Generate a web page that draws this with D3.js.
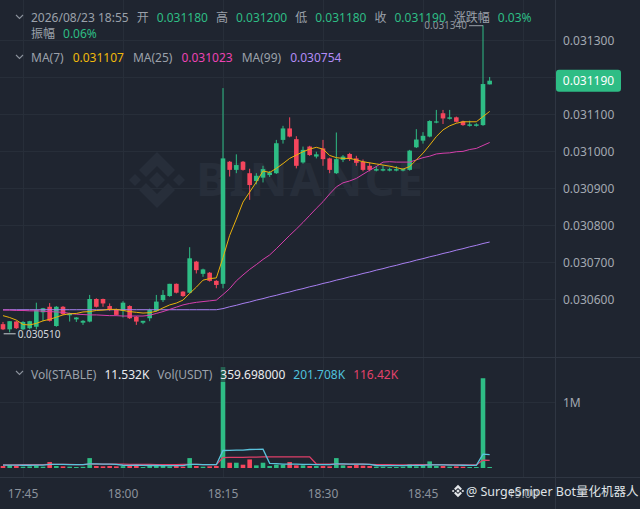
<!DOCTYPE html>
<html>
<head>
<meta charset="utf-8">
<script src="https://cdn.jsdelivr.net/npm/d3@7"></script>
<style>
  html, body { margin: 0; padding: 0; background: #1f2530; }
  svg { display: block; font-family: "Noto Sans", "Noto Sans CJK SC", sans-serif; }
</style>
</head>
<body>
<svg id="chart" width="640" height="509"></svg>
<script>
// ---- data (1 minute candles, 17:42 -> 18:55) ----
const firstMinute = new Date(2026, 7, 23, 17, 42);
const lastMinute = new Date(2026, 7, 23, 18, 55);

const opens = [0.030532,0.030518,0.030539,0.030518,0.030521,0.030525,0.030564,0.030579,0.030527,0.030579,
  0.030556,0.030545,0.030536,0.030539,0.030600,0.030600,0.030581,0.030572,0.030568,0.030581,
  0.030552,0.030536,0.030548,0.030568,0.030597,0.030608,0.030641,0.030620,0.030617,0.030701,
  0.030668,0.030671,0.030649,0.030641,0.030971,0.030949,0.030971,0.030940,0.030919,0.030928,
  0.030935,0.030940,0.031030,0.031061,0.031032,0.030969,0.031012,0.030985,0.031007,0.030980,
  0.030940,0.030976,0.030992,0.030980,0.030971,0.030960,0.030947,0.030947,0.030947,0.030947,
  0.030947,0.030949,0.031010,0.031028,0.031039,0.031077,0.031102,0.031087,0.031091,0.031080,
  0.031068,0.031068,0.031070,0.031180];
const highs = [0.030538,0.030540,0.030541,0.030540,0.030541,0.030590,0.030576,0.030589,0.030581,0.030581,
  0.030563,0.030551,0.030543,0.030611,0.030602,0.030601,0.030588,0.030574,0.030594,0.030583,
  0.030554,0.030541,0.030574,0.030611,0.030624,0.030641,0.030642,0.030621,0.030740,0.030703,
  0.030682,0.030673,0.030651,0.031170,0.030973,0.030991,0.030973,0.030952,0.030940,0.030960,
  0.030946,0.031030,0.031068,0.031091,0.031040,0.031012,0.031014,0.030998,0.031030,0.030982,
  0.031050,0.030989,0.030995,0.030987,0.030977,0.030969,0.030959,0.030961,0.030955,0.030959,
  0.030953,0.031003,0.031059,0.031051,0.031083,0.031111,0.031111,0.031111,0.031093,0.031082,
  0.031082,0.031075,0.031340,0.031200];
const lows = [0.030516,0.030510,0.030519,0.030516,0.030518,0.030518,0.030540,0.030539,0.030525,0.030557,
  0.030539,0.030538,0.030530,0.030537,0.030577,0.030579,0.030568,0.030555,0.030550,0.030546,
  0.030530,0.030532,0.030540,0.030566,0.030592,0.030606,0.030615,0.030606,0.030615,0.030669,
  0.030660,0.030647,0.030629,0.030629,0.030931,0.030940,0.030947,0.030868,0.030910,0.030915,
  0.030930,0.030938,0.031020,0.031037,0.030953,0.030966,0.030987,0.030980,0.030960,0.030940,
  0.030938,0.030970,0.030973,0.030960,0.030945,0.030945,0.030945,0.030945,0.030945,0.030945,
  0.030945,0.030947,0.031008,0.031020,0.031037,0.031075,0.031073,0.031085,0.031077,0.031068,
  0.031066,0.031066,0.031068,0.031180];
const closes = [0.030518,0.030540,0.030521,0.030538,0.030540,0.030570,0.030575,0.030541,0.030579,0.030559,
  0.030561,0.030550,0.030541,0.030600,0.030579,0.030588,0.030570,0.030557,0.030590,0.030548,
  0.030539,0.030541,0.030570,0.030593,0.030611,0.030641,0.030617,0.030608,0.030710,0.030678,
  0.030680,0.030649,0.030638,0.030980,0.030949,0.030962,0.030949,0.030908,0.030933,0.030951,
  0.030942,0.031021,0.031061,0.031039,0.030960,0.031003,0.030989,0.030991,0.030978,0.030949,
  0.030978,0.030985,0.030978,0.030968,0.030949,0.030949,0.030951,0.030951,0.030951,0.030951,
  0.030951,0.031001,0.031031,0.031041,0.031081,0.031080,0.031088,0.031091,0.031079,0.031070,
  0.031072,0.031072,0.031181,0.031190];

const ma7 = [0.030555,0.030550,0.030543,0.030531,0.030530,0.030534,0.030541,0.030545,0.030551,0.030557,
  0.030560,0.030561,0.030565,0.030566,0.030569,0.030570,0.030572,0.030572,0.030569,0.030566,
  0.030564,0.030562,0.030563,0.030567,0.030576,0.030584,0.030589,0.030597,0.030615,0.030632,
  0.030651,0.030655,0.030657,0.030712,0.030772,0.030816,0.030862,0.030889,0.030916,0.030946,
  0.030942,0.030953,0.030966,0.030980,0.030989,0.030998,0.031005,0.031010,0.031005,0.030988,
  0.030982,0.030980,0.030980,0.030976,0.030971,0.030968,0.030965,0.030962,0.030959,0.030955,
  0.030951,0.030958,0.030976,0.030994,0.031016,0.031039,0.031057,0.031068,0.031075,0.031079,
  0.031079,0.031079,0.031093,0.031107];
const ma25 = [0.030570,0.030570,0.030569,0.030569,0.030568,0.030568,0.030567,0.030566,0.030565,0.030564,
  0.030561,0.030559,0.030558,0.030557,0.030557,0.030556,0.030555,0.030555,0.030554,0.030554,
  0.030554,0.030554,0.030556,0.030561,0.030566,0.030572,0.030578,0.030584,0.030588,0.030591,
  0.030593,0.030595,0.030597,0.030612,0.030628,0.030649,0.030665,0.030680,0.030693,0.030707,
  0.030719,0.030736,0.030754,0.030772,0.030789,0.030807,0.030826,0.030845,0.030863,0.030884,
  0.030903,0.030914,0.030919,0.030926,0.030937,0.030948,0.030958,0.030970,0.030971,0.030970,
  0.030970,0.030970,0.030976,0.030982,0.030986,0.030992,0.030994,0.030995,0.030998,0.030999,
  0.031004,0.031007,0.031015,0.031023];
const ma99 = [0.030571,0.030571,0.030571,0.030571,0.030571,0.030571,0.030571,0.030571,0.030571,0.030571,
  0.030571,0.030571,0.030571,0.030571,0.030571,0.030571,0.030571,0.030571,0.030571,0.030571,
  0.030571,0.030571,0.030571,0.030571,0.030571,0.030571,0.030571,0.030571,0.030571,0.030571,
  0.030571,0.030571,0.030571,0.030574,0.030579,0.030583,0.030588,0.030592,0.030597,0.030601,
  0.030606,0.030610,0.030615,0.030619,0.030624,0.030628,0.030633,0.030637,0.030642,0.030646,
  0.030651,0.030655,0.030660,0.030664,0.030669,0.030673,0.030678,0.030682,0.030687,0.030691,
  0.030696,0.030700,0.030705,0.030709,0.030714,0.030718,0.030723,0.030727,0.030732,0.030736,
  0.030741,0.030745,0.030750,0.030754];

const volumes = [30000,45000,35000,20000,25000,40000,20000,90000,30000,25000,
  20000,15000,18000,150000,30000,25000,30000,25000,28000,30000,
  60000,15000,35000,30000,30000,25000,30000,20000,150000,30000,
  20000,25000,30000,1530000,80000,80000,50000,130000,40000,80000,
  30000,50000,50000,90000,40000,40000,30000,30000,30000,25000,
  150000,40000,30000,45000,35000,30000,20000,20000,15000,15000,
  20000,60000,25000,30000,100000,30000,30000,20000,25000,20000,
  15000,15000,1360000,11532];
const volMaFast = [45000,45000,44000,42000,42000,44000,45000,55000,55000,54000,
  52000,50000,50000,62000,62000,60000,58000,55000,42000,40000,
  42000,40000,38000,38000,36000,36000,35000,35000,55000,55000,
  52000,50000,50000,265000,268000,272000,272000,280000,282000,285000,
  70000,65000,60000,58000,58000,55000,55000,52000,50000,50000,
  62000,62000,60000,58000,58000,55000,38000,36000,35000,35000,
  35000,40000,40000,40000,48000,48000,46000,45000,45000,42000,
  40000,40000,210000,201708];
const volMaSlow = [48000,48000,48000,50000,50000,50000,52000,55000,55000,55000,
  55000,52000,52000,60000,60000,60000,58000,58000,58000,56000,
  56000,55000,55000,52000,52000,50000,50000,55000,55000,55000,
  52000,52000,50000,158000,160000,162000,162000,165000,166000,168000,
  168000,168000,170000,170000,170000,170000,170000,60000,58000,58000,
  60000,60000,60000,58000,58000,55000,52000,50000,50000,48000,
  48000,48000,50000,50000,52000,52000,50000,50000,48000,48000,
  46000,46000,120000,116420];
const volumeUsdt = 359.698;
const priceTicks = [0.0306,0.0307,0.0308,0.0309,0.0310,0.0311,0.0312,0.0313];

// ---- setup ----
const times = d3.timeMinute.range(firstMinute, d3.timeMinute.offset(lastMinute, 1));
const last = times.length - 1;
const bg = "#1f2530", up = "#2ebd85", down = "#f6465d";
const gridColor = "#272e39", sepColor = "#2f3642";
const plotRight = 555;

const svg = d3.select("#chart");
svg.append("rect").attr("width", 640).attr("height", 509).attr("fill", bg);

const x = d3.scaleTime()
  .domain([firstMinute, new Date(2026, 7, 23, 19, 0)])
  .range([3, 523]);
const y = d3.scaleLinear().domain([0.0306, 0.0313]).range([299, 40]);
const yv = d3.scaleLinear().domain([0, 1e6]).range([468, 402]);
const fmtP = d3.format(".6f");
const bodyW = 4.6;

// grid
const grid = svg.append("g");
grid.selectAll("line.h").data(priceTicks).join("line")
  .attr("x1", 0).attr("x2", plotRight)
  .attr("y1", d => Math.round(y(d)) + 0.5).attr("y2", d => Math.round(y(d)) + 0.5)
  .attr("stroke", gridColor);
grid.append("line").attr("x1", 0).attr("x2", plotRight)
  .attr("y1", Math.round(yv(1e6)) + 0.5).attr("y2", Math.round(yv(1e6)) + 0.5)
  .attr("stroke", gridColor);
const timeTicks = x.ticks(d3.timeMinute.every(15));
grid.selectAll("line.v").data(timeTicks).join("line")
  .attr("x1", d => Math.round(x(d)) + 0.5).attr("x2", d => Math.round(x(d)) + 0.5)
  .attr("y1", 0).attr("y2", 477)
  .attr("stroke", gridColor);

// separators
svg.append("line").attr("x1", 0).attr("x2", 640).attr("y1", 357.5).attr("y2", 357.5).attr("stroke", sepColor);
svg.append("line").attr("x1", 0).attr("x2", 640).attr("y1", 477.5).attr("y2", 477.5).attr("stroke", sepColor);
svg.append("line").attr("x1", plotRight + 0.5).attr("x2", plotRight + 0.5).attr("y1", 0).attr("y2", 509).attr("stroke", sepColor);

// binance style logo
function logo(g, s, fill) {
  const parts = [
    "M0,-8 L8,0 L0,8 L-8,0 Z",
    "M-22,-6 L-16,0 L-22,6 L-28,0 Z",
    "M22,-6 L28,0 L22,6 L16,0 Z",
    "M0,-28 L18,-10 L11,-3 L0,-14 L-11,-3 L-18,-10 Z",
    "M0,28 L18,10 L11,3 L0,14 L-11,3 L-18,10 Z"
  ];
  g.selectAll("path").data(parts).join("path").attr("d", d => d).attr("fill", fill)
    .attr("transform", `scale(${s})`);
}
const wm = svg.append("g");
logo(wm.append("g").attr("transform", "translate(157,180)"), 1, "#272e3a");
wm.append("text").attr("x", 196).attr("y", 196).attr("font-size", 47).attr("font-weight", 700)
  .attr("fill", "#272e3a").attr("letter-spacing", 2).text("BINANCE");

// candles
const candles = svg.append("g");
candles.selectAll("line").data(times).join("line")
  .attr("x1", d => x(d)).attr("x2", d => x(d))
  .attr("y1", (d, i) => y(highs[i])).attr("y2", (d, i) => y(lows[i]))
  .attr("stroke", (d, i) => closes[i] >= opens[i] ? up : down)
  .attr("stroke-width", 1);
candles.selectAll("rect").data(times).join("rect")
  .attr("x", d => x(d) - bodyW / 2)
  .attr("y", (d, i) => y(Math.max(opens[i], closes[i])))
  .attr("width", bodyW)
  .attr("height", (d, i) => Math.max(1.2, Math.abs(y(opens[i]) - y(closes[i]))))
  .attr("fill", (d, i) => closes[i] >= opens[i] ? up : down);

// moving averages
const maLine = d3.line().x((d, i) => x(times[i])).y(d => y(d));
[[ma99, "#a77ff0"], [ma25, "#d63fac"], [ma7, "#e9b10c"]].forEach(([arr, c]) => {
  svg.append("path").datum(arr).attr("d", maLine).attr("fill", "none")
    .attr("stroke", c).attr("stroke-width", 1);
});

// high / low markers
const hiIdx = d3.maxIndex(highs), loIdx = d3.minIndex(lows);
svg.append("line").attr("x1", x(times[hiIdx]) - 14).attr("x2", x(times[hiIdx]))
  .attr("y1", y(highs[hiIdx]) + 0.5).attr("y2", y(highs[hiIdx]) + 0.5).attr("stroke", "#9aa0a9");
svg.append("text").attr("x", x(times[hiIdx]) - 16).attr("y", y(highs[hiIdx]) + 3.5)
  .attr("text-anchor", "end").attr("font-size", 10).attr("fill", "#8f959e").text(fmtP(highs[hiIdx]));
svg.append("line").attr("x1", x(times[loIdx]) - 6).attr("x2", x(times[loIdx]) + 6)
  .attr("y1", y(lows[loIdx]) + 1.5).attr("y2", y(lows[loIdx]) + 1.5).attr("stroke", "#c9cdd3");
svg.append("text").attr("x", x(times[loIdx]) + 8).attr("y", y(lows[loIdx]) + 5.5)
  .attr("font-size", 10).attr("fill", "#d4d8de").text(fmtP(lows[loIdx]));

// volume bars
const vol = svg.append("g");
vol.selectAll("rect").data(times).join("rect")
  .attr("x", d => x(d) - bodyW / 2)
  .attr("y", (d, i) => Math.min(yv(volumes[i]), 467))
  .attr("width", bodyW)
  .attr("height", (d, i) => Math.max(1, 468 - yv(volumes[i])))
  .attr("fill", (d, i) => closes[i] >= opens[i] ? up : down);
const vLine = d3.line().x((d, i) => x(times[i])).y(d => yv(d));
svg.append("path").datum(volMaSlow).attr("d", vLine).attr("fill", "none").attr("stroke", "#de3f68").attr("stroke-width", 1.3);
svg.append("path").datum(volMaFast).attr("d", vLine).attr("fill", "none").attr("stroke", "#5bc3dc").attr("stroke-width", 1.3);

// price axis (the tick under the last-price badge is hidden, as in the app)
const lastY = y(closes[last]);
svg.append("g").selectAll("text")
  .data(priceTicks.filter(d => Math.abs(y(d) - lastY) > 14)).join("text")
  .attr("x", 563).attr("y", d => y(d) + 4.5)
  .attr("font-size", 12).attr("fill", "#a3a9b2").text(fmtP);
svg.append("text").attr("x", 563).attr("y", yv(1e6) + 4.5)
  .attr("font-size", 12).attr("fill", "#a3a9b2").text("1M");
// last price badge
svg.append("rect").attr("x", 556).attr("y", lastY - 11).attr("width", 65).attr("height", 22)
  .attr("rx", 3).attr("fill", up);
svg.append("text").attr("x", 588.5).attr("y", lastY + 4.5).attr("text-anchor", "middle")
  .attr("font-size", 12).attr("fill", "#ffffff").text(fmtP(closes[last]));

// time axis
svg.append("g").selectAll("text").data(timeTicks).join("text")
  .attr("x", d => x(d)).attr("y", 498).attr("text-anchor", "middle")
  .attr("font-size", 12).attr("fill", "#8b929c").text(d3.timeFormat("%H:%M"));

// legends
function chevron(cy) {
  svg.append("path").attr("d", `M16,${cy - 2} L19.5,${cy + 1.5} L23,${cy - 2}`)
    .attr("fill", "none").attr("stroke", "#8b929c").attr("stroke-width", 1.1);
}
function row(yPos, items, x0, gap) {
  let cx = x0;
  items.forEach(it => {
    const t = svg.append("text").attr("x", cx).attr("y", yPos)
      .attr("font-size", 12).attr("fill", it[1]).text(it[0]);
    cx += t.node().getComputedTextLength() + gap;
  });
}
const gray = "#9ba1aa";
const chg = (closes[last] - closes[last - 1]) / closes[last - 1] * 100;
const amp = (highs[last] - lows[last]) / closes[last - 1] * 100;
chevron(17);
row(21.5, [
  [d3.timeFormat("%Y/%m/%d %H:%M")(times[last]), gray],
  ["开", gray], [fmtP(opens[last]), up],
  ["高", gray], [fmtP(highs[last]), up],
  ["低", gray], [fmtP(lows[last]), up],
  ["收", gray], [fmtP(closes[last]), up],
  ["涨跌幅", gray], [chg.toFixed(2) + "%", up]
], 31, 8);
row(37.5, [["振幅", gray], [amp.toFixed(2) + "%", up]], 31, 8);
chevron(57);
row(62, [
  ["MA(7)", gray], [fmtP(ma7[last]), "#f0b90b"],
  ["MA(25)", gray], [fmtP(ma25[last]), "#ec43b4"],
  ["MA(99)", gray], [fmtP(ma99[last]), "#b48cf7"]
], 31, 9);

const fmtK = v => (+(v / 1000).toFixed(3)) + "K";
svg.append("rect").attr("x", 218).attr("y", 366).attr("width", 72).attr("height", 16)
  .attr("fill", bg).attr("opacity", 0.6);
chevron(373);
row(378.5, [
  ["Vol(STABLE)", gray], [fmtK(volumes[last]), "#eaecef"],
  ["Vol(USDT)", gray], [volumeUsdt.toFixed(6), "#eaecef"],
  [fmtK(volMaFast[last]), "#4fc1dd"], [fmtK(volMaSlow[last]), "#e2426b"]
], 31, 8);

// bottom right watermark
const bw = svg.append("g");
logo(bw.append("g").attr("transform", "translate(458,491)"), 0.22, "#e3e6ea");
bw.append("text").attr("x", 466).attr("y", 495.5).attr("font-size", 12.5)
  .attr("fill", "#dfe2e6").text("@ SurgeSniper Bot量化机器人");
</script>
</body>
</html>
